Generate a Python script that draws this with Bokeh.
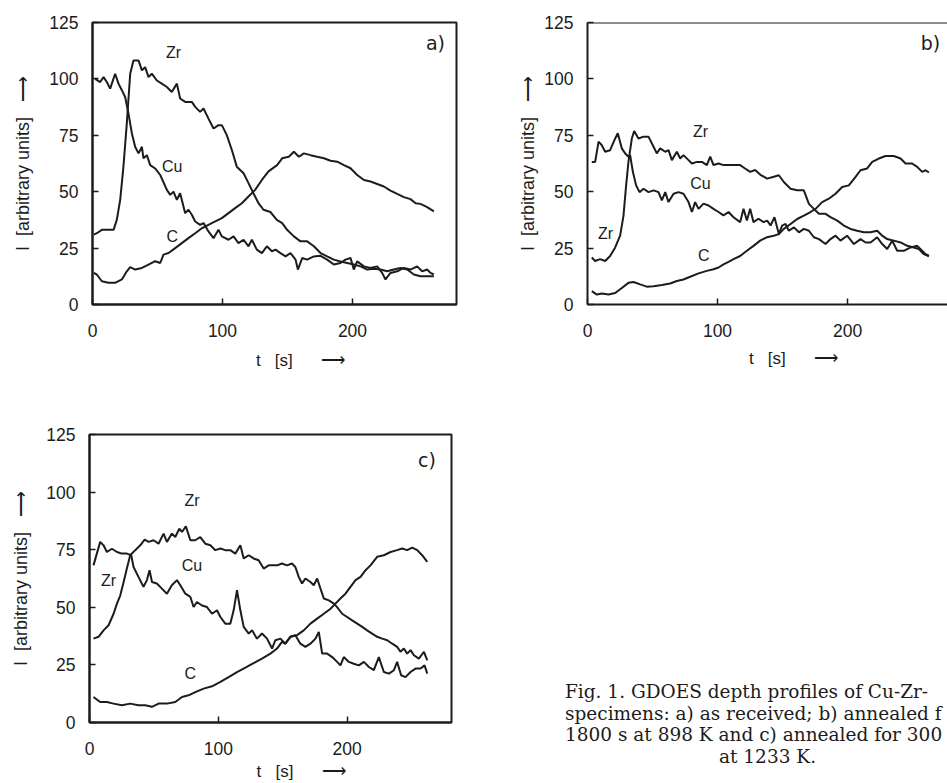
from bokeh.plotting import figure
from bokeh.models import Range1d, FixedTicker, Label, Span, Div
from bokeh.layouts import column, row
from bokeh.embed import file_html
from bokeh.resources import INLINE

# ---------------- data ----------------
X_TICKS = [0, 100, 200]
Y_TICKS = [0, 25, 50, 75, 100, 125]

# panel a) as received
a_cu_t = [2, 5.9, 8.5, 11, 13.6, 17.4, 20, 22.6, 25.1, 27.7, 30.3, 32.8, 35.4, 38, 39.2, 41.8, 44.4, 48.2, 52.1, 57.2,
          59.8, 62.3, 64.9, 67.4, 71.3, 73.8, 76.4, 79, 82.8, 85.4, 89.2, 93.1, 96.9, 99.5, 104.6, 108.5, 112.3, 116.2,
          120, 122.6, 126.4, 130.3, 134.1, 138, 140.8, 144.6, 148.5, 152.3, 156.2, 158, 161.3, 165.1, 170.3, 175.4,
          180.5, 185.6, 190.8, 194.6, 198.5, 201, 203.6, 208.8, 213.9, 219, 222.8, 225.4, 229.2, 234.4, 239.5, 244.6,
          249.7, 253.6, 257.4, 260, 262.6]
a_cu = [100, 98.6, 100.8, 98.6, 95.7, 102.3, 97.9, 95, 92, 84.6, 75.8, 69.9, 67, 69.9, 64.8, 66.2, 61.8, 60.3, 57.4, 50.8,
        48.6, 50, 46.4, 49.3, 40.5, 42, 39.8, 36.8, 35.3, 36.1, 32.4, 29.4, 33.1, 30.2, 28.7, 30.2, 27.2, 28.7,
        25.8, 28.7, 24.3, 22.8, 25.8, 23.6, 24.3, 22.8, 21.3, 22.8, 19.9, 15.5, 20.6, 19.9, 21.3, 21.6,
        19.9, 17.7, 18.4, 19.9, 20.6, 15.5, 19.1, 16.9, 16.2, 16.9, 14, 11.1, 14, 14.7, 16.2, 15.5,
        16.9, 14.7, 15.5, 14, 13.3]
a_zr_t = [1, 3.3, 7.2, 16.2, 18.7, 21.3, 23.8, 26.4, 29, 31.5, 35.4, 38, 40.5, 43.1, 45.6, 49.5, 53.3, 57.2, 61, 64.9,
          67.4, 71.3, 76.4, 79, 82.8, 85.4, 89.2, 93.1, 96.9, 99.5, 103.3, 107.2, 111, 116.2, 120, 123.8, 127.7,
          131.5, 136.9, 141.8, 145.9, 149.7, 154.9, 160, 165.1, 170.3, 175.4, 180.5, 185.6, 190.8, 195.9, 201,
          206.2, 211.3, 216.4, 221.5, 226.7, 231.8, 236.9, 242.1, 247.2, 252.3, 257.4, 262.6]
a_zr = [31, 31.6, 33.1, 33.1, 37.5, 46.4, 61.1, 80.3, 102.3, 108.2, 108.2, 103.8, 105.2, 100.8, 102.3, 99.3, 97.9, 96.4,
        94.2, 97.9, 91.3, 89.8, 89.8, 87.6, 85.4, 86.9, 82.4, 78, 79.5, 79.5, 75.1, 68.5, 61.1, 58.2, 53.8, 49.3, 44.9,
        42, 41, 37.5, 36.1, 33.1, 30.2, 28, 28, 25.8, 22.8, 21.3, 19.9, 19.1, 18.4, 17.7,
        16.9, 15.5, 15.8, 15.5, 14.7, 15.5, 16.2, 15.5, 13.3, 12.5, 12.5, 12.5]
a_c_t = [1, 3.3, 7.2, 12.3, 17.4, 22.6, 26.4, 29, 32.8, 38, 43.1, 48.2, 52.1, 54.6, 58.5, 63.6, 68.7, 73.8, 79, 84.1,
         89.2, 94.4, 99.5, 104.6, 109.7, 114.9, 120, 125.1, 130.3, 135.4, 142, 145.9, 151, 154.9, 158.8, 162.6,
         167.7, 172.8, 178, 183.1, 188.2, 193.4, 198.5, 203.6, 208.8, 213.9, 219, 224.1, 229.2, 234.4, 239.5,
         244.6, 248.5, 252.3, 257.4, 262.6]
a_c = [14, 13.3, 10.3, 9.6, 9.6, 11.1, 14.7, 16.6, 15.5, 16.2, 17.7, 19.2, 18.4, 22.1, 22.8, 25, 27.2, 29.4, 31.6, 33.8,
       35.3, 36.8, 38.3, 40.5, 42.7, 44.9, 47.9, 50.8, 55.2, 59, 61.8, 64.8, 65.5, 67.7, 65.5, 67,
       66.2, 65.5, 64.8, 63.7, 63.3, 61.8, 60.4, 57.4, 55.2, 54.5, 53.4, 52.3, 50.5, 49, 47.6,
       46.7, 44.9, 44.6, 43.2, 41.3]

# panel b) annealed 1800 s at 898 K
b_cu_t = [3.3, 5.9, 8.5, 11, 13.6, 17.4, 21.3, 23.3, 26.4, 29, 31.5, 32.8, 34.9, 37.4, 40, 43.1, 46.9, 50.8, 54.6, 57.2,
          59.8, 62.3, 66.2, 70, 73.8, 77.7, 80.3, 82.8, 85.4, 89.2, 93.1, 96.9, 100.8, 104.6, 108.5, 112.3, 117.4,
          120, 122.6, 125.1, 127.7, 131.5, 135.4, 138.2, 140.8, 143.8, 147.2, 149.7, 152.3, 154.9, 158.8, 162.6,
          166.4, 170.3, 174.1, 178, 183.1, 186.9, 190.8, 194.6, 199.7, 204.9, 210, 213.9, 217.7, 222.8, 226.7,
          230.5, 234.4, 238.2, 243.3, 248.5, 253.6, 257.4, 260, 262.6]
b_cu = [63.2, 63.2, 72.2, 70.6, 67.7, 68.4, 73.6, 75.9, 69.2, 66.9, 65.5, 66.2, 58.8, 52.8, 49.8, 51.3, 49.8, 50.6, 49.8,
        46.1, 49.8, 45.4, 49.1, 49.8, 49.1, 45.4, 41, 45.4, 42.4, 44.7, 43.9, 42.4, 41, 39.5, 41, 38.7, 36.5,
        42.4, 37.2, 42.4, 36.5, 38, 36.5, 37.2, 35, 38.7, 31.2, 35, 35.7, 32.7, 34.2, 32,
        33.5, 32.7, 29.8, 29, 26.8, 29, 30.5, 28.3, 30.5, 26.8, 29, 27.5, 27.5, 29.8, 26.8,
        24.6, 28.3, 23.8, 23.8, 25.3, 26, 23.8, 22.3, 21.6]
b_zr_t = [3.3, 5.9, 9.7, 13.6, 17.4, 21.3, 25.1, 27.7, 29.7, 31.5, 34.1, 35.9, 39.2, 43.1, 46.9, 50.8, 53.3, 55.9, 59.8,
          62.3, 64.9, 68.7, 71.3, 73.8, 77.7, 80.3, 84.1, 88, 91.8, 94.4, 96.9, 100.8, 104.6, 108.5, 112.3, 117.4,
          121.2, 125.1, 128.9, 133, 138.2, 143.3, 147.2, 151, 156.2, 161.3, 166.4, 170.3, 174.1, 178, 183.1,
          186.9, 192.1, 197.2, 202.3, 207.4, 212.6, 217.7, 222.8, 226.7, 230.5, 235.6, 240.8, 245.9, 251, 254.9,
          258.7, 262.6]
b_zr = [20.8, 19.3, 20.1, 19.3, 21.5, 25.3, 30.5, 39.4, 52.8, 63.2, 73.6, 76.9, 73.6, 74.4, 74.4, 69.9, 67, 69.2, 67.7,
        68.4, 64, 67.7, 64.7, 66.2, 64, 62.5, 63.2, 63.2, 61.8, 65.5, 61.8, 62.5, 61.8, 61.8, 61.8, 61.8,
        60.3, 58.8, 59.6, 57.5, 55.8, 56.6, 57.3, 54.3, 51.3, 50.6, 50.6, 44.6, 42.4, 40.2, 40.2,
        38.7, 37.2, 35, 33.5, 32.7, 32, 32, 32.7, 30.5, 29, 28.3, 27.5, 26, 25.3, 24.6,
        22.3, 21.3]
b_c_t = [3.3, 7.2, 11, 16.2, 21.3, 26.4, 31.5, 35.4, 40.5, 45.6, 50.8, 57.2, 63.6, 68.7, 73.8, 79, 85.4, 91.8, 96.9,
         100.8, 104.6, 108.5, 112.3, 117.4, 122.6, 127.7, 132.8, 137.9, 143.3, 147.2, 151, 156.2, 161.3, 166.4,
         171.5, 175.4, 180.5, 185.6, 190.8, 195.9, 201, 206.2, 210, 215.1, 219, 224.1, 229.2, 235.6, 240.8,
         244.6, 249.7, 253.6, 257.4, 260, 262.6]
b_c = [5.9, 4.4, 4.9, 4.4, 5.1, 7.3, 9.6, 10, 8.9, 7.9, 8.1, 8.6, 9.3, 10.4, 11.1, 12.3, 13.8, 14.9, 15.6,
       16.4, 17.8, 18.9, 20.1, 21.5, 23.8, 26, 28.3, 29.8, 30.5, 31.2, 33.5, 35.7, 37.9, 39.4,
       41, 42.4, 45.4, 46.9, 49.1, 52.1, 52.8, 56.6, 59.5, 60.3, 63.2, 64.7, 65.8, 65.8, 64.7,
       62.5, 62.5, 61, 58.8, 59.5, 58.5]

# panel c) annealed 3000 s at 1233 K
c_cu_t = [3.1, 5.7, 8.3, 10.9, 13.5, 17.4, 21.3, 25.1, 29, 32.4, 34.2, 38, 41.9, 44.6, 46.6, 48.5, 52.3, 56.2, 60.1,
          63.9, 67.9, 70.5, 74.4, 78.3, 80.8, 83.4, 87.3, 91.2, 95.1, 99, 101.6, 105.4, 109.3, 111.9, 114.5, 117.1,
          119.7, 123.6, 126.2, 130, 133.9, 137.8, 141.7, 144.3, 148.2, 152, 155.9, 159.8, 163.7, 167.6, 171.5,
          175.4, 178, 180.6, 184.5, 188.4, 192.2, 194.8, 197.4, 201.3, 205.2, 209.1, 213, 216.9, 220.7, 224.6,
          228.5, 232.4, 236.3, 238.8, 241.9, 245.3, 249.2, 253.1, 257, 260.1, 262.2]
c_cu = [68.2, 73.3, 78.4, 76.9, 74, 75.4, 74, 73.3, 73.3, 72.6, 67.5, 63.2, 58.9, 61.8, 66.1, 61, 60.3, 58.1, 55.9,
        59.6, 61.8, 59.6, 55.9, 54.5, 50.1, 52.3, 50.8, 50.1, 47.2, 48.7, 45.8, 42.9, 42.9, 48.7, 57.4, 48.7,
        41.5, 38.6, 40, 36.4, 38.6, 36.4, 32.1, 35.7, 36.4, 34.2, 37.2, 37.9, 34.2, 32.8, 34.2,
        36.4, 39.3, 29.9, 29.9, 28.4, 26.3, 24.8, 28.4, 26.3, 25.5, 24.8, 26.3, 24.1, 22.7, 28.4,
        21.9, 21.2, 22.7, 26.3, 20.5, 19.7, 21.9, 23.4, 23.4, 24.8, 21.2]
c_zr_t = [3.1, 7, 10.9, 14.8, 18.7, 21.3, 23.9, 26.5, 29, 31.6, 35.5, 39.4, 42.8, 45.9, 49.8, 53.6, 57.5, 60.1, 64,
          66.6, 69.7, 71.8, 74.8, 78.3, 82.1, 86, 89.9, 93.8, 97.7, 101.6, 105.4, 109.3, 113.2, 117.1, 119.7,
          123.6, 127.4, 131.3, 135.2, 139.1, 143, 145.6, 149.4, 153.3, 157.2, 159.8, 162.4, 165, 167.6, 171.5,
          174.1, 176.7, 179.3, 181.9, 185.8, 189.7, 192.2, 196.1, 200, 203.9, 207.8, 211.7, 215.5, 219.4, 223.3,
          227.2, 231.1, 235, 238.8, 241.4, 244, 246.6, 249.2, 251.8, 255.7, 259.6, 262.2]
c_zr = [36.4, 37.2, 40, 42.2, 47.2, 51.6, 55.2, 61, 66.8, 72.6, 74.8, 76.9, 79.4, 78.4, 79.1, 77.6, 82, 78.4, 82,
        80.5, 84.1, 82.7, 85.1, 79.1, 79.1, 80.5, 77.6, 76.9, 74.8, 75.5, 74.8, 74.8, 73.3, 76.9, 71.2,
        72.6, 71.2, 70.4, 66.8, 68.2, 68.2, 68.2, 69, 68.2, 69, 67.5, 63.2, 60.3, 62.5, 61,
        59.6, 62.5, 58.1, 53.8, 53, 51.6, 50.1, 47.2, 45.8, 44.3, 42.9, 41.5, 40, 38.6, 37.2,
        36.4, 35.7, 34.2, 32.8, 30.7, 32.1, 29.9, 31.4, 29.2, 27.7, 30.7, 27]
c_c_t = [3.1, 8.3, 13.5, 18.7, 25.1, 31.6, 38, 43.2, 48.5, 53.6, 60.1, 66.6, 71.8, 76.9, 82.1, 88.6, 95.1, 101.6,
         108, 114.5, 121, 127.4, 133.9, 140.4, 145.6, 149.4, 152, 155.9, 161.1, 166.3, 171.5, 176.7, 181.9,
         187.1, 190.9, 194.8, 198.7, 202.6, 206.5, 210.4, 214.3, 218.1, 223.3, 228.5, 233.7, 238.8, 242.7,
         246.6, 250.5, 254.4, 258.2, 262.2]
c_c = [11.1, 8.9, 8.9, 8.2, 7.5, 8.2, 7.5, 7.5, 6.8, 8.2, 8.2, 8.9, 11.1, 11.8, 13.2, 14.7, 15.7, 17.6,
       19.7, 21.9, 23.8, 25.8, 27.7, 29.9, 32.1, 35, 34.2, 37.2, 37.9, 40, 42.9, 45.1, 47.2,
       49.4, 51.6, 53.8, 55.9, 58.9, 61.8, 63.2, 66.1, 68.2, 71.9, 72.6, 74, 74.8, 75.5,
       74.8, 75.9, 74.8, 72.6, 69.7]

CAPTION = ["Fig. 1. GDOES depth profiles of Cu-Zr-",
           "specimens: a) as received; b) annealed f",
           "1800 s at 898 K and c) annealed for 300",
           "at 1233 K."]

# ---------------- styling helpers ----------------
SANS = "Liberation Sans"
INK = "#1c1c1c"
NB = "\u00a0"
ARROW = "\u27f6"
Y_LABEL = "I" + NB * 2 + "[arbitrary units]" + NB * 3 + ARROW


def x_label(pad):
    return NB * pad + "t" + NB * 3 + "[s]" + NB * 6 + ARROW


def panel(width, height, x_end, left, right, top, bottom, ylab_standoff, xlab_standoff, box=True):
    p = figure(width=width, height=height, x_range=Range1d(0, x_end), y_range=Range1d(0, 125),
               output_backend="svg", toolbar_location=None,
               min_border_left=left, min_border_right=right,
               min_border_top=top, min_border_bottom=bottom)
    p.xgrid.visible = False
    p.ygrid.visible = False
    p.background_fill_color = "white"
    p.border_fill_color = "white"
    if box:
        p.outline_line_color = INK
        p.outline_line_width = 2
        p.outline_line_alpha = 1
    else:
        p.outline_line_color = None
        p.add_layout(Span(location=125, dimension="width", line_color=INK, line_width=2))
    for ax in (p.xaxis[0], p.yaxis[0]):
        ax.axis_line_color = INK
        ax.axis_line_width = 2
        ax.major_tick_in = 6
        ax.major_tick_out = 0
        ax.major_tick_line_width = 1.5
        ax.major_tick_line_color = INK
        ax.minor_tick_line_color = None
        ax.major_label_text_font = SANS
        ax.major_label_text_font_size = "17.5px"
        ax.major_label_text_color = INK
        ax.axis_label_text_font = SANS
        ax.axis_label_text_font_style = "normal"
        ax.axis_label_text_color = INK
    p.xaxis.ticker = FixedTicker(ticks=X_TICKS)
    p.yaxis.ticker = FixedTicker(ticks=Y_TICKS)
    p.xaxis.major_label_standoff = 19
    p.yaxis.major_label_standoff = 14
    p.yaxis.axis_label = Y_LABEL
    p.yaxis.axis_label_text_font_size = "18px"
    p.yaxis.axis_label_standoff = ylab_standoff
    p.xaxis.axis_label_text_font_size = "17px"
    p.xaxis.axis_label_standoff = xlab_standoff
    return p


def lab(p, x, y, text, size="16px", font=SANS):
    p.add_layout(Label(x=x, y=y, text=text, text_font=font, text_font_size=size,
                       text_align="center", text_baseline="middle", text_color=INK))


def curves(p, series):
    for t, v in series:
        p.line(t, v, line_color=INK, line_width=2)


# ---------------- panel a ----------------
pa = panel(490, 380, 280, 92, 34, 22, 76, ylab_standoff=13, xlab_standoff=11)
pa.xaxis.axis_label = x_label(11)
curves(pa, [(a_cu_t, a_cu), (a_zr_t, a_zr), (a_c_t, a_c)])
lab(pa, 62.3, 111.9, "Zr")
lab(pa, 61.3, 61.0, "Cu")
lab(pa, 61.3, 30.2, "C")
lab(pa, 263.8, 115.7, "a)", size="19px", font="DejaVu Sans")

# ---------------- panel b ----------------
pb = panel(457, 380, 276.9, 97, 0, 22, 76, ylab_standoff=3, xlab_standoff=9, box=False)
pb.xaxis.axis_label = x_label(11)
curves(pb, [(b_cu_t, b_cu), (b_zr_t, b_zr), (b_c_t, b_c)])
lab(pb, 86.9, 76.7, "Zr")
lab(pb, 86.9, 53.6, "Cu")
lab(pb, 13.8, 31.3, "Zr")
lab(pb, 89.5, 21.6, "C")
lab(pb, 263.8, 116.0, "b)", size="19px", font="DejaVu Sans")

# ---------------- panel c ----------------
pc = panel(520, 403, 281, 89, 69, 54, 61, ylab_standoff=12, xlab_standoff=4)
pc.xaxis.axis_label = x_label(13)
curves(pc, [(c_cu_t, c_cu), (c_zr_t, c_zr), (c_c_t, c_c)])
lab(pc, 79.6, 96.5, "Zr")
lab(pc, 79.6, 68.3, "Cu")
lab(pc, 14.8, 61.8, "Zr")
lab(pc, 78.2, 21.3, "C")
lab(pc, 262.0, 114.0, "c)", size="19px", font="DejaVu Sans")

# ---------------- caption (text block to the right of panel c) ----------------
cap_lines = "".join(f"<div>{ln}</div>" for ln in CAPTION[:3])
cap_html = (
    "<div style=\"font-family:'DejaVu Serif',serif;font-size:18.5px;line-height:21.5px;color:#1c1c1c;"
    "white-space:nowrap;padding-top:301px;padding-left:45px;margin:0;\">"
    + cap_lines
    + f"<div style=\"padding-left:154px\">{CAPTION[3]}</div></div>"
)
caption = Div(text=cap_html, width=427, height=403, margin=0)

layout = column(row(pa, pb), row(pc, caption))
open("out.html", "w").write(file_html(layout, INLINE))
